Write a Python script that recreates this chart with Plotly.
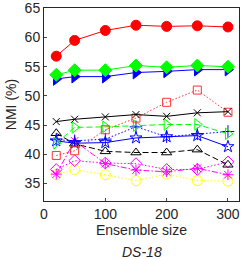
import plotly.graph_objects as go

x = [20, 50, 100, 150, 200, 250, 300]

red_circle = [56.8, 59.5, 61.2, 62.1, 61.9, 62.0, 61.8]
green_diamond = [53.6, 54.4, 54.4, 55.2, 54.9, 55.2, 55.0]
blue_triangle = [52.9, 53.3, 53.3, 54.0, 54.2, 54.5, 54.5]
black_x = [45.6, 46.0, 46.4, 46.8, 46.5, 47.1, 47.3]
red_square = [39.8, 40.6, 44.2, 46.2, 48.9, 51.0, 47.2]
green_tri = [41.9, 44.6, 44.7, 44.9, 45.1, 45.1, 43.5]
blue_plus = [42.5, 42.3, 42.6, 44.7, 43.0, 43.5, 43.9]
blue_star = [42.3, 41.9, 42.0, 42.8, 43.0, 43.2, 41.3]
black_tri = [43.6, 41.8, 40.5, 40.3, 40.3, 40.8, 38.2]
mag_diamond = [37.4, 38.9, 38.5, 38.4, 37.4, 37.4, 38.7]
mag_star = [36.6, 42.3, 38.4, 37.3, 37.0, 37.6, 36.5]
yellow_circle = [36.5, 37.4, 36.5, 35.5, 36.6, 35.5, 35.4]

DOT = '1.5px,2px'
DASH = '6px,3px'
DASHDOT = '6px,2px,1.5px,2px'

series = [
    (yellow_circle, '#FFFF00', DOT, 'circle-open', 10),
    (mag_star, '#FF00FF', DASHDOT, 'asterisk-open', 9),
    (mag_diamond, '#FF00FF', DOT, 'diamond-open', 9),
    (black_tri, '#000000', DASH, 'triangle-up-open', 9),
    (blue_star, '#0000FF', 'solid', 'star-open', 9),
    (blue_plus, '#0000FF', DOT, 'cross-thin-open', 9),
    (green_tri, '#00FF00', DASH, 'triangle-right-open', 10),
    (red_square, '#FF3333', DOT, 'square-open', 8),
    (black_x, '#000000', 'solid', 'x-thin-open', 7),
    (blue_triangle, '#0000FF', 'solid', 'triangle-right', 11),
    (green_diamond, '#00FF00', 'solid', 'diamond', 10),
    (red_circle, '#FF0000', 'solid', 'circle', 10),
]

fig = go.Figure()
for ys, col, dash, sym, sz in series:
    fig.add_trace(go.Scatter(
        x=x, y=ys, mode='lines+markers',
        line=dict(color=col, width=1, dash=dash),
        marker=dict(symbol=sym, size=sz, color=col, line=dict(color=col, width=1)),
        showlegend=False,
    ))

fig.update_layout(
    width=242, height=259,
    margin=dict(l=44, r=3, t=8, b=58, autoexpand=False),
    plot_bgcolor='white', paper_bgcolor='white',
    font=dict(family='Liberation Sans, Arial', size=14, color='#262626'),
)
fig.update_xaxes(
    range=[0, 318], tickvals=[0, 100, 200, 300],
    ticks='inside', ticklen=3, showline=True, mirror=True,
    linecolor='#262626', linewidth=1, showgrid=False, zeroline=False,
    title=dict(text='Ensemble size', font=dict(size=14), standoff=4),
    automargin=False, ticklabeloverflow='allow',
)
fig.update_yaxes(
    range=[32, 65.05], tickvals=[35, 40, 45, 50, 55, 60, 65],
    ticks='inside', ticklen=3, showline=True, mirror=True,
    linecolor='#262626', linewidth=1, showgrid=False, zeroline=False,
    title=dict(text='NMI (%)', font=dict(size=14), standoff=4),
    automargin=False, ticklabeloverflow='allow',
)
fig.add_annotation(
    text='<i>DS-18</i>', xref='paper', yref='paper', x=0.5, y=-0.262,
    showarrow=False, font=dict(size=14, color='#262626'), yanchor='middle',
)

fig.write_html('out.html', config={'displayModeBar': False},
               post_script="document.body.style.margin='0';document.body.style.overflow='hidden';")
